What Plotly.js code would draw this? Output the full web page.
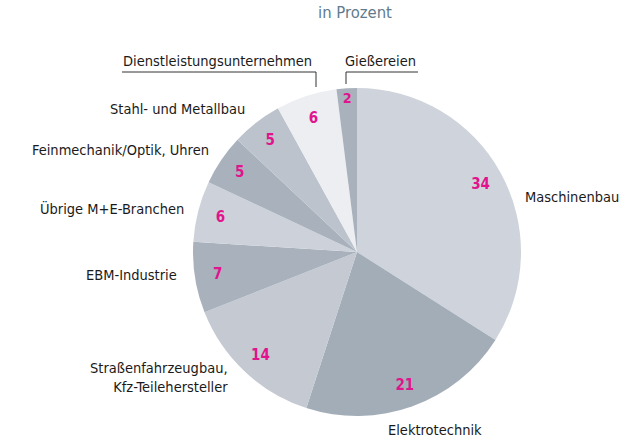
<!DOCTYPE html>
<html><head><meta charset="utf-8">
<script src="https://cdn.plot.ly/plotly-3.0.1.min.js"></script>
<style>body{margin:0;background:#fff}#c{width:624px;height:442px}</style>
</head><body><div id="c"></div>
<script>
var categories = ["Maschinenbau","Elektrotechnik","Straßenfahrzeugbau,<br>Kfz-Teilehersteller","EBM-Industrie","Übrige M+E-Branchen","Feinmechanik/Optik, Uhren","Stahl- und Metallbau","Dienstleistungsunternehmen","Gießereien"];
var values = [34,21,14,7,6,5,5,6,2];
var colors = ["#cfd4dc","#a3adb8","#c4c9d2","#a9b2bc","#cdd2da","#a9b2bc","#bcc3cc","#eceef2","#a9b2bc"];
// label anchor positions in pixels [x, y, xanchor]
var labelPos = [[523,197,"left"],[435,430,"center"],[230,377,"right"],[179,275,"right"],[186,208,"right"],[211,150,"right"],[247,109,"right"],[314,61,"right"],[418,61,"right"]];

var W=624,H=442,T=88,B=26;
var PH=H-T-B;
function px(x){return x/W;}
function py(y){return (H-B-y)/PH;}
var dom={x:[(357-164)/W,(357+164)/W],y:[0,1]};
var font="DejaVu Sans Condensed, Liberation Sans Narrow, Arial Narrow, sans-serif";
var traces=[{
  type:"pie",values:values,labels:categories,sort:false,direction:"clockwise",rotation:0,
  marker:{colors:colors,line:{width:0}},textinfo:"none",hoverinfo:"label+value",domain:dom,showlegend:false
},{
  type:"pie",values:values,labels:categories,sort:false,direction:"clockwise",rotation:0,hole:0.72,
  marker:{colors:values.map(function(){return "rgba(0,0,0,0)";}),line:{width:0}},
  text:values.map(String),textinfo:"text",textposition:"inside",insidetextorientation:"horizontal",
  textfont:{family:font,size:15,color:"#e0148c",weight:"bold"},hoverinfo:"skip",domain:dom,showlegend:false
}];
var ann=[{text:"in Prozent",x:px(355),y:py(13),xref:"paper",yref:"paper",showarrow:false,
  font:{family:font,size:16.5,color:"#5f7b8d"},xanchor:"center",yanchor:"middle"}];
categories.forEach(function(c,i){
  var p=labelPos[i];
  ann.push({text:c,x:px(p[0]),y:py(p[1]),xref:"paper",yref:"paper",showarrow:false,
    xanchor:p[2],yanchor:"middle",align:"right",font:{family:font,size:14.5,color:"#1a1a1a"}});
});
var layout={width:W,height:H,margin:{l:0,r:0,t:T,b:B},paper_bgcolor:"#fff",plot_bgcolor:"#fff",
  annotations:ann,showlegend:false,
  shapes:[
   {type:"line",xref:"paper",yref:"paper",x0:px(122),x1:px(316),y0:py(72),y1:py(72),line:{color:"#333",width:1}},
   {type:"line",xref:"paper",yref:"paper",x0:px(316),x1:px(316),y0:py(72),y1:py(87),line:{color:"#333",width:1}},
   {type:"line",xref:"paper",yref:"paper",x0:px(346),x1:px(418),y0:py(72),y1:py(72),line:{color:"#333",width:1}},
   {type:"line",xref:"paper",yref:"paper",x0:px(346),x1:px(346),y0:py(72),y1:py(84),line:{color:"#333",width:1}}
  ]};
Plotly.newPlot("c",traces,layout,{displayModeBar:false,staticPlot:true});
</script></body></html>
